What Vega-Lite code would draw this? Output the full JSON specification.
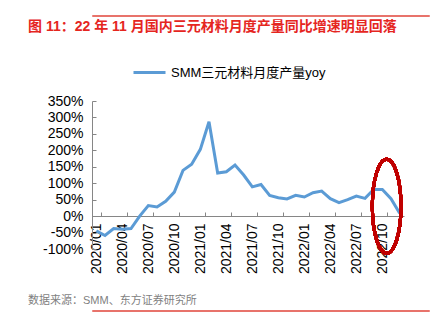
{
  "$schema": "https://vega.github.io/schema/vega-lite/v6.json",
  "padding": {"left": 27, "top": 14, "right": 0, "bottom": 0},
  "spacing": 20,
  "resolve": {"legend": {"color": "independent"}},
  "config": {
    "view": {"stroke": null},
    "font": "Liberation Sans, Noto Sans CJK SC",
    "axis": {"labelFont": "Liberation Sans, Noto Sans CJK SC", "labelColor": "#000000"}
  },
  "vconcat": [
    {
      "width": 337,
      "height": 1,
      "view": {"stroke": "#e8736b", "strokeWidth": 1},
      "data": {"values": []},
      "mark": "point",
      "encoding": {},
      "title": {
        "text": "图 11：22 年 11 月国内三元材料月度产量同比增速明显回落",
        "orient": "bottom",
        "anchor": "start",
        "frame": "group",
        "dx": -64,
        "offset": 4,
        "fontSize": 14,
        "fontWeight": "bold",
        "color": "#e5261f",
        "font": "Liberation Sans, Noto Sans CJK SC"
      }
    },
    {
      "width": 312,
      "height": 148,
      "data": {
        "values": [
          {"month": "2020/01", "value": -45},
          {"month": "2020/02", "value": -59},
          {"month": "2020/03", "value": -38},
          {"month": "2020/04", "value": -40},
          {"month": "2020/05", "value": -38},
          {"month": "2020/06", "value": 0},
          {"month": "2020/07", "value": 32},
          {"month": "2020/08", "value": 28},
          {"month": "2020/09", "value": 45},
          {"month": "2020/10", "value": 73},
          {"month": "2020/11", "value": 139},
          {"month": "2020/12", "value": 158},
          {"month": "2021/01", "value": 203},
          {"month": "2021/02", "value": 287},
          {"month": "2021/03", "value": 131},
          {"month": "2021/04", "value": 135},
          {"month": "2021/05", "value": 155},
          {"month": "2021/06", "value": 125},
          {"month": "2021/07", "value": 89},
          {"month": "2021/08", "value": 96},
          {"month": "2021/09", "value": 63},
          {"month": "2021/10", "value": 56},
          {"month": "2021/11", "value": 52},
          {"month": "2021/12", "value": 63},
          {"month": "2022/01", "value": 58},
          {"month": "2022/02", "value": 71},
          {"month": "2022/03", "value": 76},
          {"month": "2022/04", "value": 53},
          {"month": "2022/05", "value": 41},
          {"month": "2022/06", "value": 50},
          {"month": "2022/07", "value": 61},
          {"month": "2022/08", "value": 54},
          {"month": "2022/09", "value": 81},
          {"month": "2022/10", "value": 81},
          {"month": "2022/11", "value": 53},
          {"month": "2022/12", "value": 9}
        ]
      },
      "encoding": {
        "x": {
          "field": "month",
          "type": "ordinal",
          "sort": null,
          "scale": {"type": "band", "paddingInner": 0, "paddingOuter": 0},
          "axis": {
            "title": null,
            "values": ["2020/01", "2020/04", "2020/07", "2020/10", "2021/01", "2021/04", "2021/07", "2021/10", "2022/01", "2022/04", "2022/07", "2022/10"],
            "labelAngle": -90,
            "labelAlign": "right",
            "labelBaseline": "middle",
            "labelFontSize": 14,
            "labelPadding": 11,
            "tickBand": "extent",
            "tickSize": -4,
            "tickColor": "#868686",
            "domainColor": "#868686",
            "offset": -33,
            "grid": false
          }
        },
        "y": {
          "field": "value",
          "type": "quantitative",
          "scale": {"domain": [-100, 350], "nice": false, "zero": false},
          "axis": {
            "title": null,
            "values": [-100, -50, 0, 50, 100, 150, 200, 250, 300, 350],
            "labelExpr": "datum.value + '%'",
            "labelFontSize": 14,
            "labelPadding": 13,
            "tickSize": -4,
            "tickColor": "#868686",
            "domainColor": "#868686",
            "grid": false
          }
        }
      },
      "layer": [
        {
          "mark": {"type": "line", "strokeWidth": 3, "clip": false},
          "encoding": {
            "x": {"field": "month", "type": "ordinal", "sort": null, "bandPosition": 0.5},
            "color": {
              "datum": "SMM三元材料月度产量yoy",
              "scale": {"range": ["#5b9bd5"]},
              "legend": {
                "title": null,
                "orient": "none",
                "padding": 0,
                "legendX": 40,
                "legendY": -46,
                "symbolType": "stroke",
                "symbolSize": 1024,
                "symbolStrokeWidth": 3,
                "labelFontSize": 13,
                "labelColor": "#000000",
                "labelOffset": 4,
                "labelFont": "Liberation Sans, Noto Sans CJK SC"
              }
            }
          }
        },
        {
          "mark": {
            "type": "point",
            "shape": "M0,-1A0.305,1 0 1,1 0,1A0.305,1 0 1,1 0,-1Z",
            "filled": false,
            "stroke": "#c00000",
            "strokeWidth": 3,
            "opacity": 1,
            "size": 8836,
            "clip": false
          },
          "encoding": {
            "x": {"datum": "2022/11", "type": "ordinal", "bandPosition": 0},
            "y": {"datum": 30, "type": "quantitative"}
          }
        }
      ]
    },
    {
      "width": 337,
      "height": 1,
      "view": {"stroke": "#e8736b", "strokeWidth": 1},
      "data": {"values": []},
      "mark": "point",
      "encoding": {},
      "title": {
        "text": "数据来源：SMM、东方证券研究所",
        "orient": "top",
        "anchor": "start",
        "frame": "group",
        "dx": -64,
        "offset": 4,
        "fontSize": 11,
        "fontWeight": "normal",
        "color": "#7f7f7f",
        "font": "Liberation Sans, Noto Sans CJK SC"
      }
    }
  ]
}
